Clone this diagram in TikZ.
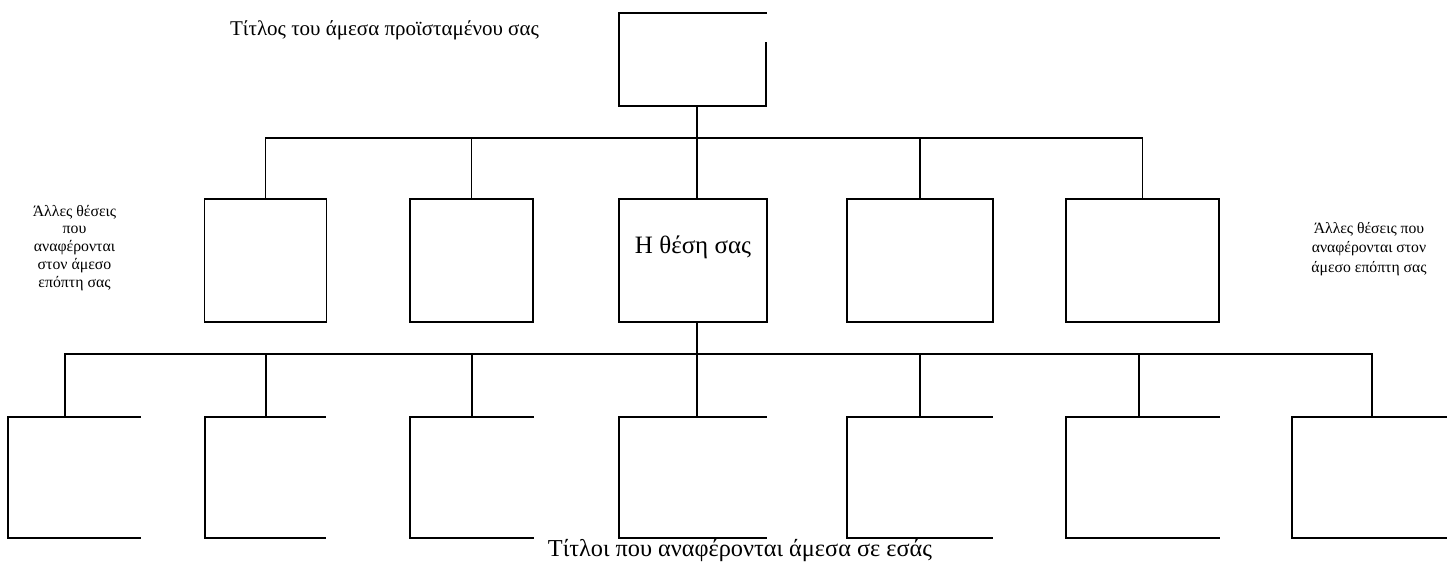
\documentclass[tikz,border=0pt]{standalone}
\usepackage{fontspec}
\setmainfont{Liberation Serif}
\begin{document}
\begin{tikzpicture}[x=1pt,y=-1pt,
  ln/.style={line width=1.7pt,line cap=rect},
  cbox/.style={draw,line width=1.7pt,minimum width=#1,minimum height=123pt,inner sep=0pt,outer sep=0pt},
  obox/.style={minimum width=#1,minimum height=121pt,inner sep=0pt,outer sep=0pt},
  side/.style={align=center,inner sep=0pt}]
\useasboundingbox (0,0) rectangle (1452,568);
% top box
\node[minimum width=147pt,minimum height=93pt,inner sep=0pt,outer sep=0pt] (top) at (692.5,59.5) {};
\draw[ln] (top.north east) -- (top.north west) -- (top.south west) -- (top.south east) -- ([yshift=-30pt]top.north east);
\node[font=\fontsize{21}{24}\selectfont,inner sep=0pt,anchor=base] (ttl) at (384.5,35) {Τίτλος του άμεσα προϊσταμένου σας};
% middle row
\node[cbox=122pt] (m1) at (265.5,260.5) {};
\node[cbox=123pt] (m2) at (471.5,260.5) {};
\node[cbox=148pt] (m3) at (693,260.5) {};
\node[font=\fontsize{25}{28}\selectfont,inner sep=0pt] (you) at (693,247) {Η θέση σας};
\node[cbox=146pt] (m4) at (920,260.5) {};
\node[cbox=153pt] (m5) at (1142.5,260.5) {};
\coordinate (c1) at (697,138);
\draw[ln] (top.south -| c1) -- (c1);
\draw[ln] (m1.north) -- (m1.north |- c1) -- (m5.north |- c1) -- (m5.north);
\draw[ln] (m2.north) -- (m2.north |- c1);
\draw[ln] (c1) -- (m3.north -| c1);
\draw[ln] (m4.north) -- (m4.north |- c1);
% side texts
\node[side,font=\fontsize{15.8}{17.9}\selectfont] (ls) at (74.5,248) {Άλλες θέσεις\\που\\αναφέρονται\\στον άμεσο\\επόπτη σας};
\node[side,font=\fontsize{15.7}{19.2}\selectfont] (rs) at (1369,249) {Άλλες θέσεις που\\αναφέρονται στον\\άμεσο επόπτη σας};
% bottom row
\node[obox=132pt] (bA) at (74,477.5) {};
\node[obox=120pt] (bB) at (265,477.5) {};
\node[obox=123pt] (bC) at (471.5,477.5) {};
\node[obox=147pt] (bD) at (692.5,477.5) {};
\node[obox=145pt] (bE) at (919.5,477.5) {};
\node[obox=153pt] (bF) at (1142.5,477.5) {};
\node[obox=154pt] (bG) at (1369,477.5) {};
\foreach \b in {bA,bB,bC,bD,bE,bF,bG}
  \draw[ln] (\b.north east) -- (\b.north west) -- (\b.south west) -- (\b.south east);
\coordinate (c2) at (697,354);
\draw[ln] (m3.south -| c2) -- (c2);
\coordinate (vA) at (65,354);
\coordinate (vB) at (266,354);
\coordinate (vC) at (472,354);
\coordinate (vE) at (920,354);
\coordinate (vF) at (1139,354);
\coordinate (vG) at (1372,354);
\draw[ln] (vA) -- (vG);
\draw[ln] (vA) -- (vA |- bA.north);
\draw[ln] (vB) -- (vB |- bB.north);
\draw[ln] (vC) -- (vC |- bC.north);
\draw[ln] (c2) -- (c2 |- bD.north);
\draw[ln] (vE) -- (vE |- bE.north);
\draw[ln] (vF) -- (vF |- bF.north);
\draw[ln] (vG) -- (vG |- bG.north);
\node[font=\fontsize{24.3}{27}\selectfont,inner sep=0pt,anchor=base] (bt) at (740,556) {Τίτλοι που αναφέρονται άμεσα σε εσάς};
\end{tikzpicture}
\end{document}
